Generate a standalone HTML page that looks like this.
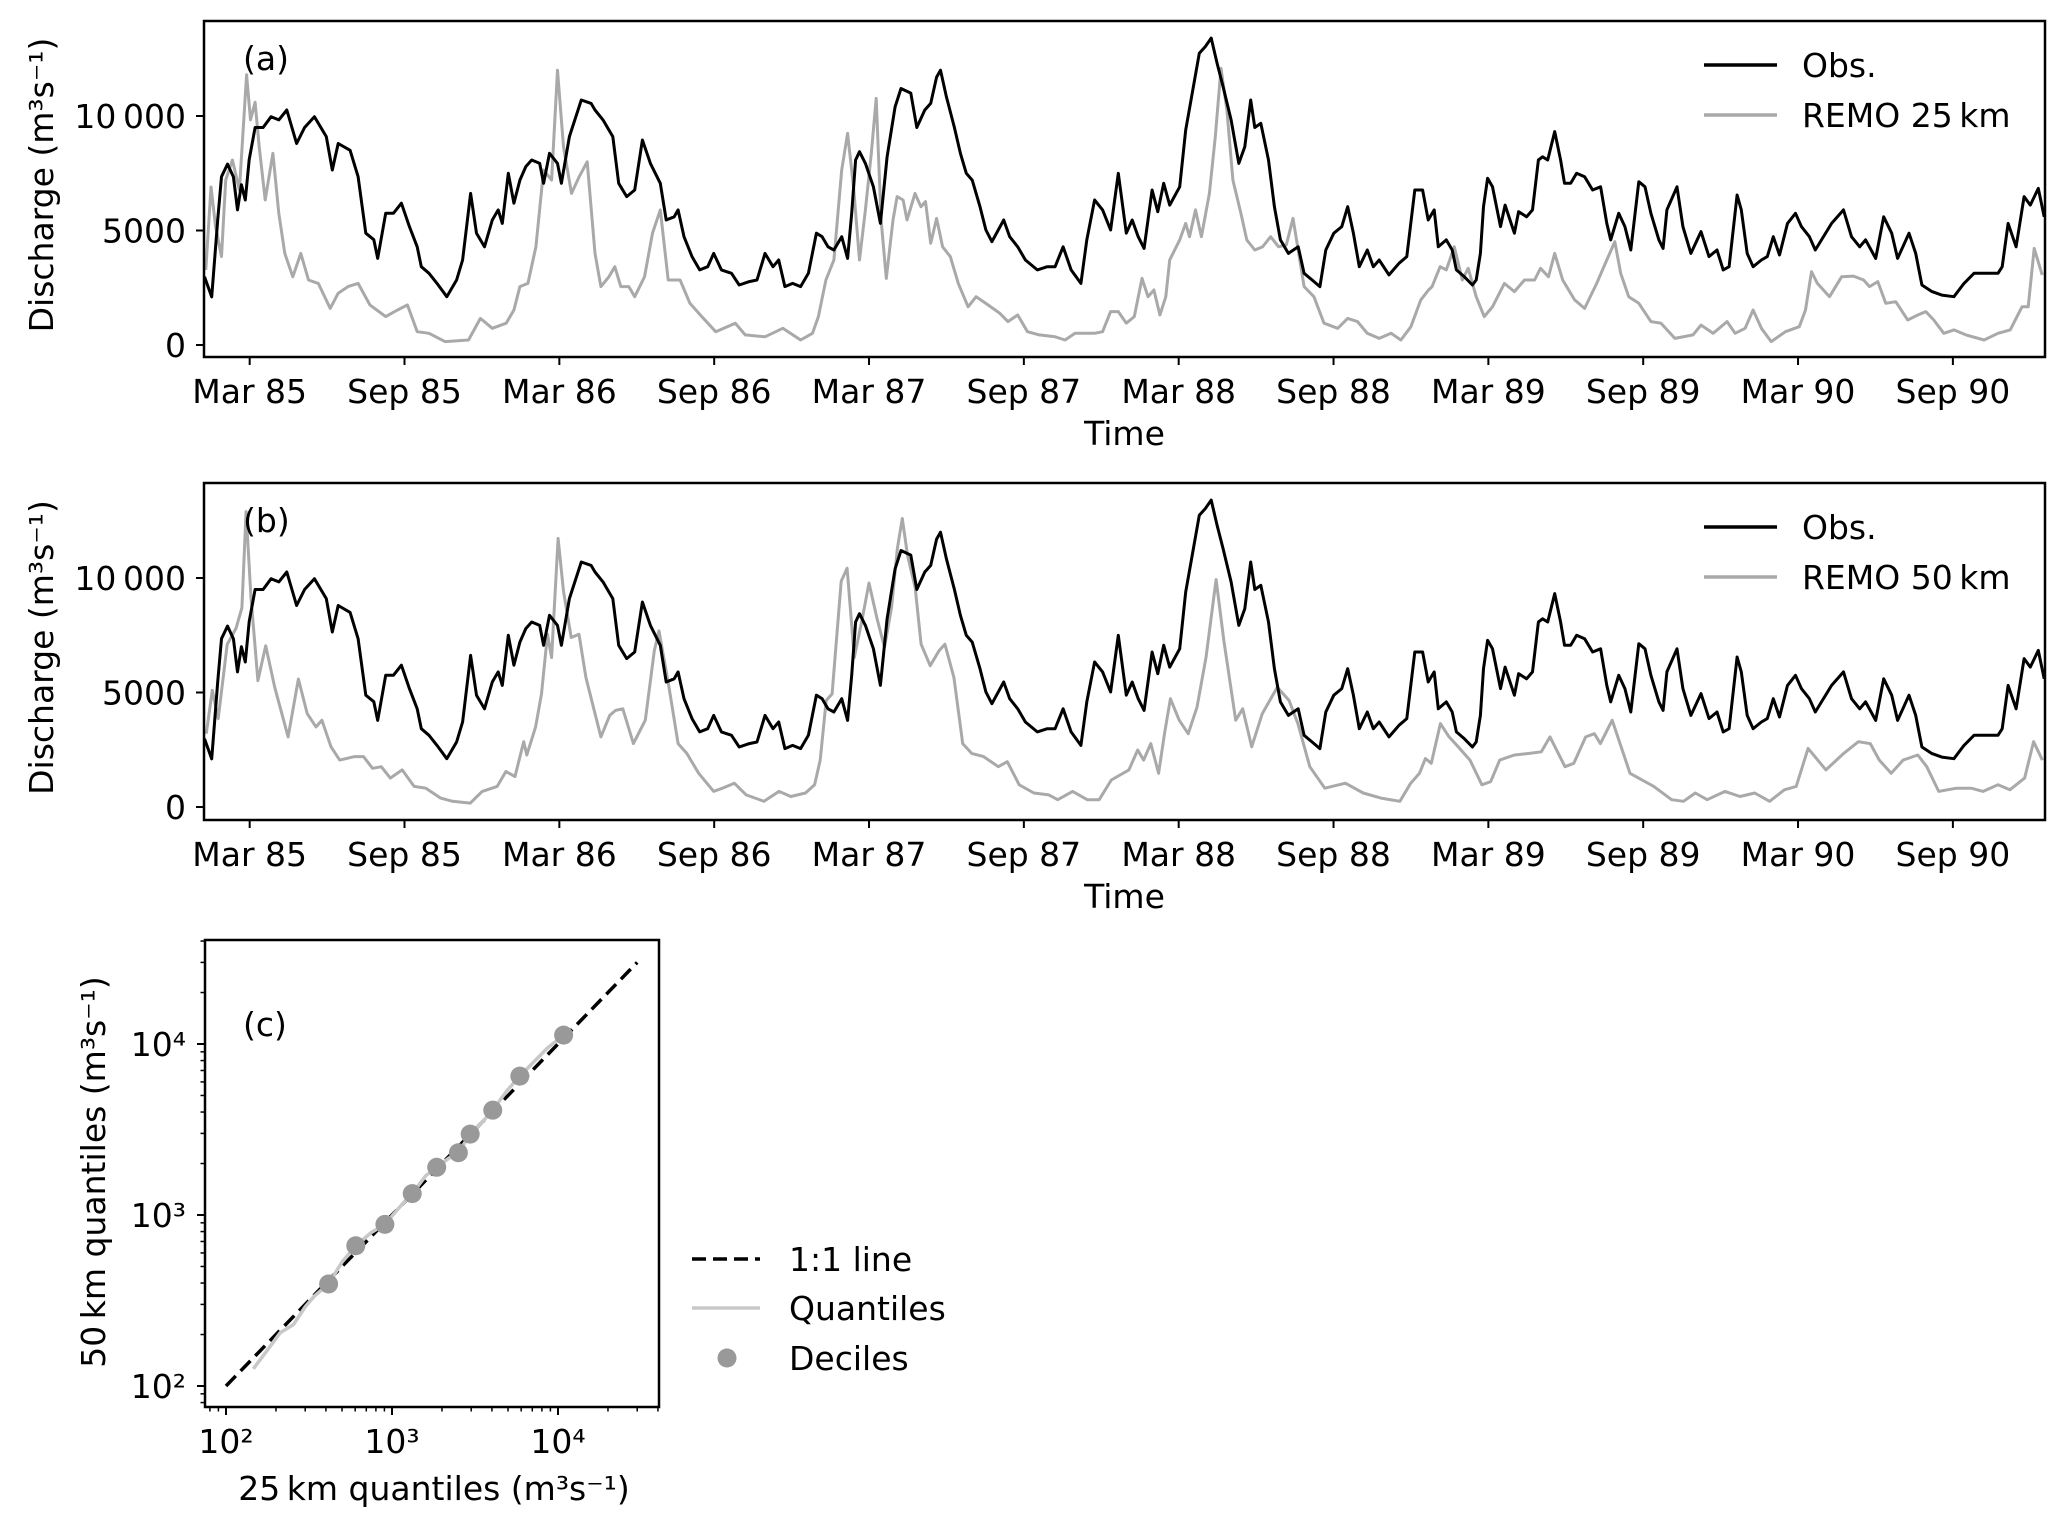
<!DOCTYPE html>
<html><head><meta charset="utf-8"><style>
html,body{margin:0;padding:0;background:#fff;}
svg{display:block;font-family:"DejaVu Sans","Liberation Sans",sans-serif;}
</style></head><body>
<svg id="fig" width="2067" height="1529" viewBox="0 0 2067 1529" xmlns="http://www.w3.org/2000/svg">
<rect x="0" y="0" width="2067" height="1529" fill="#fff"/>
</svg>
<script>
// ---- time-series data (months since 1 Jan 1985; discharge in thousand m3/s) ----
const obsMonths=[0.25,0.53,0.76,0.91,1.14,1.37,1.53,1.68,1.83,1.98,2.21,2.52,2.83,3.13,3.44,3.82,4.13,4.51,4.97,5.2,5.43,5.89,6.2,6.5,6.81,6.96,7.27,7.57,7.88,8.19,8.49,8.65,8.95,9.26,9.64,10.02,10.25,10.56,10.79,11.1,11.4,11.63,11.79,12.02,12.24,12.47,12.7,12.93,13.24,13.39,13.62,13.93,14.08,14.39,14.85,15.23,15.38,15.69,16.07,16.3,16.61,16.92,17.22,17.53,17.91,18.14,18.45,18.6,18.83,19.14,19.44,19.75,19.98,20.28,20.67,20.97,21.36,21.66,21.97,22.28,22.5,22.74,23.04,23.35,23.65,23.96,24.18,24.41,24.64,24.94,25.17,25.33,25.48,25.63,25.86,26.17,26.44,26.7,27.01,27.24,27.62,27.85,28.16,28.39,28.62,28.77,29.0,29.31,29.54,29.77,30.0,30.3,30.53,30.76,31.22,31.45,31.76,32.06,32.52,32.91,33.21,33.52,33.83,34.21,34.44,34.74,35.05,35.36,35.66,35.97,36.2,36.43,36.66,36.97,37.19,37.42,37.65,38.04,38.27,38.5,38.8,39.03,39.26,39.49,39.72,40.03,40.33,40.56,40.79,40.95,41.18,41.48,41.71,41.94,42.25,42.63,42.86,43.17,43.47,43.7,44.01,44.32,44.55,44.77,45.0,45.31,45.54,45.77,46.15,46.54,46.84,47.15,47.45,47.67,47.9,48.06,48.37,48.6,48.76,49.07,49.38,49.53,49.69,49.81,49.97,50.16,50.47,50.65,51.01,51.17,51.48,51.71,51.94,52.1,52.3,52.57,52.8,52.95,53.19,53.42,53.73,54.04,54.35,54.59,54.74,55.05,55.29,55.52,55.83,56.07,56.3,56.61,56.77,56.92,57.31,57.54,57.85,58.24,58.55,58.86,59.1,59.33,59.64,59.8,60.03,60.26,60.58,60.81,61.04,61.28,61.59,61.9,62.13,62.44,62.67,62.91,63.3,63.76,64.07,64.39,64.62,65.01,65.32,65.63,65.86,66.3,66.56,66.8,67.19,67.57,68.04,68.43,68.82,69.28,69.75,69.91,70.14,70.45,70.76,71.0,71.31,71.54];
const obsValues=[2.98,2.1,5.46,7.35,7.9,7.35,5.9,7.0,6.33,8.1,9.5,9.5,9.97,9.83,10.26,8.8,9.5,9.97,9.1,7.64,8.8,8.5,7.35,4.88,4.6,3.78,5.75,5.75,6.19,5.17,4.29,3.42,3.13,2.69,2.11,2.84,3.71,6.62,4.88,4.29,5.46,5.9,5.31,7.5,6.19,7.2,7.79,8.08,7.93,7.06,8.37,7.93,7.06,9.1,10.7,10.55,10.26,9.83,9.1,7.06,6.48,6.77,8.95,7.93,7.06,5.46,5.6,5.9,4.73,3.86,3.28,3.42,4.0,3.28,3.13,2.62,2.77,2.84,4.0,3.42,3.71,2.55,2.69,2.55,3.13,4.88,4.73,4.29,4.15,4.73,3.78,5.75,8.08,8.44,7.93,6.91,5.31,8.22,10.4,11.2,11.0,9.5,10.26,10.55,11.7,12.0,10.84,9.5,8.37,7.5,7.2,6.04,5.02,4.51,5.46,4.73,4.29,3.71,3.28,3.42,3.42,4.29,3.28,2.69,4.59,6.33,5.9,5.02,7.5,4.88,5.46,4.73,4.22,6.77,5.82,7.06,6.11,6.91,9.39,10.84,12.74,13.03,13.4,12.3,11.28,9.83,7.93,8.66,10.7,9.5,9.68,8.08,6.04,4.59,4.0,4.29,3.13,2.84,2.55,4.15,4.88,5.17,6.04,4.88,3.42,4.15,3.42,3.71,3.06,3.57,3.86,6.77,6.77,5.46,5.9,4.29,4.59,4.15,3.28,2.98,2.62,2.84,4.0,6.04,7.28,6.91,5.17,6.11,4.88,5.82,5.6,5.9,8.08,8.22,8.08,9.32,8.08,7.06,7.06,7.5,7.35,6.77,6.91,5.31,4.59,5.75,5.17,4.15,7.13,6.91,5.75,4.59,4.22,5.9,6.91,5.17,4.0,4.95,3.86,4.15,3.28,3.42,6.55,5.9,4.0,3.42,3.71,3.86,4.73,3.93,5.31,5.75,5.17,4.73,4.15,4.59,5.31,5.9,4.73,4.29,4.59,3.78,5.6,4.88,3.78,4.88,4.0,2.62,2.33,2.18,2.11,2.69,3.13,3.13,3.13,3.42,5.31,4.29,6.48,6.11,6.84,5.6];
const remo25Months=[0.3,0.5,0.68,0.91,1.07,1.33,1.6,1.88,2.03,2.21,2.37,2.6,2.9,3.13,3.36,3.67,3.98,4.28,4.66,5.12,5.43,5.81,6.2,6.66,7.27,7.73,8.11,8.49,8.95,9.57,10.48,10.94,11.4,11.94,12.24,12.47,12.78,13.09,13.39,13.7,13.93,14.16,14.47,14.77,15.08,15.38,15.61,15.92,16.15,16.38,16.69,16.92,17.3,17.61,17.91,18.22,18.68,19.06,19.52,20.06,20.82,21.2,21.97,22.66,23.35,23.81,24.04,24.33,24.64,24.94,25.17,25.4,25.63,25.86,26.09,26.28,26.47,26.67,26.93,27.09,27.32,27.47,27.78,28.01,28.19,28.39,28.62,28.85,29.15,29.46,29.84,30.15,30.61,31.07,31.38,31.76,32.14,32.6,33.21,33.6,33.98,34.74,35.05,35.36,35.66,35.97,36.28,36.58,36.81,37.04,37.27,37.5,37.65,38.04,38.27,38.42,38.65,38.88,39.19,39.42,39.64,39.87,40.1,40.41,40.64,40.95,41.25,41.56,41.87,42.17,42.43,42.63,42.86,43.24,43.63,44.16,44.55,44.93,45.31,45.77,46.23,46.61,47.0,47.38,47.68,47.82,48.13,48.37,48.68,48.99,49.22,49.53,49.84,50.16,50.62,51.01,51.4,51.79,52.02,52.33,52.57,52.88,53.34,53.73,54.2,54.59,54.9,55.13,55.44,55.83,56.3,56.69,57.23,57.93,58.24,58.71,59.25,59.56,59.95,60.26,60.58,60.96,61.51,62.05,62.29,62.52,62.75,63.22,63.69,64.15,64.54,64.77,65.09,65.4,65.79,66.25,66.64,66.95,67.26,67.65,68.04,68.51,69.21,69.75,70.22,70.68,70.92,71.15,71.46];
const remo25Values=[3.28,6.9,5.17,3.86,7.2,8.08,6.77,11.8,9.83,10.6,8.66,6.33,8.37,5.75,4.0,2.98,4.0,2.84,2.69,1.6,2.26,2.55,2.69,1.75,1.24,1.53,1.75,0.58,0.51,0.15,0.22,1.16,0.73,0.95,1.53,2.55,2.69,4.29,7.64,7.2,12.0,8.66,6.62,7.35,8.0,4.0,2.55,2.98,3.42,2.55,2.55,2.11,2.98,4.88,5.9,2.84,2.84,1.82,1.24,0.58,0.95,0.44,0.36,0.73,0.22,0.51,1.24,2.84,3.71,7.64,9.24,6.91,3.71,5.9,8.37,10.77,5.46,2.91,5.46,6.48,6.33,5.46,6.62,6.04,6.26,4.44,5.53,4.29,3.86,2.69,1.67,2.11,1.75,1.38,1.02,1.31,0.58,0.44,0.36,0.22,0.51,0.51,0.58,1.46,1.46,0.95,1.24,2.91,2.11,2.4,1.31,2.11,3.71,4.59,5.31,4.73,5.9,4.73,6.62,9.1,12.08,10.26,7.2,5.75,4.59,4.15,4.29,4.73,4.29,4.37,5.53,4.15,2.55,2.11,0.95,0.73,1.16,1.02,0.51,0.29,0.51,0.22,0.8,1.97,2.4,2.55,3.42,3.28,4.29,2.84,3.35,2.11,1.24,1.67,2.69,2.33,2.84,2.84,3.35,2.98,4.0,2.84,1.97,1.6,2.69,3.71,4.51,3.13,2.11,1.82,1.02,0.95,0.29,0.44,0.87,0.51,1.02,0.51,0.73,1.53,0.73,0.15,0.58,0.8,1.53,3.2,2.69,2.11,2.98,3.01,2.84,2.55,2.77,1.82,1.89,1.09,1.31,1.46,1.09,0.51,0.66,0.44,0.22,0.51,0.66,1.67,1.67,4.22,3.06];
const remo50Months=[0.32,0.55,0.78,1.13,1.47,1.7,1.86,2.05,2.32,2.62,2.97,3.49,3.89,4.23,4.57,4.8,5.15,5.49,6.07,6.41,6.76,7.1,7.45,7.91,8.37,8.83,9.4,9.86,10.55,11.01,11.59,11.93,12.28,12.62,12.74,13.08,13.31,13.54,13.7,13.95,14.16,14.46,14.76,15.03,15.38,15.61,15.95,16.18,16.46,16.87,17.33,17.68,17.86,18.25,18.6,18.94,19.4,19.98,20.32,20.78,21.24,21.93,22.51,22.97,23.54,23.89,24.11,24.34,24.57,24.92,25.15,25.43,25.72,26.0,26.3,26.6,26.87,27.1,27.29,27.49,27.79,28.02,28.37,28.71,28.94,29.29,29.63,29.98,30.44,31.01,31.36,31.82,32.39,32.97,33.31,33.89,34.46,34.92,35.39,36.07,36.41,36.64,36.92,37.22,37.45,37.68,38.02,38.37,38.71,39.06,39.45,39.75,40.21,40.48,40.83,41.24,41.82,42.28,42.62,43.08,43.66,44.46,45.15,45.84,46.57,46.99,47.33,47.56,47.79,48.14,48.48,48.83,49.29,49.75,50.09,50.44,51.01,51.59,52.05,52.39,52.97,53.31,53.77,54.11,54.34,54.8,55.49,56.41,57.1,57.56,58.02,58.48,59.17,59.75,60.32,60.9,61.47,61.93,62.39,63.08,63.77,64.34,64.8,65.15,65.61,66.07,66.64,66.99,67.45,68.14,68.71,69.17,69.75,70.21,70.78,71.13,71.47];
const remo50Values=[3.2,5.1,3.86,7.1,7.8,8.7,12.9,9.13,5.52,7.04,5.23,3.06,5.59,4.08,3.5,3.79,2.63,2.05,2.2,2.2,1.69,1.76,1.26,1.62,0.9,0.82,0.39,0.25,0.17,0.68,0.9,1.55,1.33,2.85,2.27,3.5,4.94,7.54,6.53,11.73,9.42,7.4,7.54,5.66,4.08,3.06,4.0,4.22,4.29,2.77,3.79,6.82,7.69,5.23,2.77,2.34,1.47,0.68,0.82,1.04,0.53,0.25,0.68,0.46,0.61,0.97,2.05,4.65,4.94,9.86,10.43,6.53,8.12,9.78,8.27,6.97,8.7,11.3,12.6,11.0,9.57,7.11,6.17,6.82,7.11,5.66,2.77,2.34,2.2,1.76,1.98,0.97,0.61,0.53,0.32,0.68,0.32,0.32,1.18,1.62,2.49,2.05,2.77,1.47,3.2,4.73,3.79,3.2,4.36,6.53,9.93,7.25,3.79,4.29,2.63,4.08,5.23,4.65,3.64,1.76,0.82,1.04,0.61,0.39,0.25,1.04,1.47,2.12,1.91,3.64,3.06,2.63,2.05,0.97,1.11,2.05,2.27,2.34,2.41,3.06,1.76,1.91,3.06,3.2,2.77,3.79,1.47,0.9,0.32,0.25,0.61,0.32,0.68,0.46,0.61,0.25,0.75,0.9,2.56,1.62,2.34,2.85,2.77,2.05,1.47,2.05,2.27,1.76,0.68,0.82,0.82,0.68,0.97,0.75,1.26,2.85,2.05];
const timeTickMonths=[2,8,14,20,26,32,38,44,50,56,62,68];
const timeTickLabels=["Mar 85","Sep 85","Mar 86","Sep 86","Mar 87","Sep 87","Mar 88","Sep 88","Mar 89","Sep 89","Mar 90","Sep 90"];
const dischargeTicks=[0,5000,10000];
const dischargeTickLabels=["0","5000","10\u2009000"];
// ---- Q-Q data (m3/s) ----
const quantiles25=[146,180,212,255,300,341,415,500,605,750,906,1100,1324,1600,1859,2200,2512,2958,3500,4045,4900,5890,7000,8630,10810];
const quantiles50=[126,165,205,229,290,336,395,530,661,790,881,1100,1333,1700,1901,2150,2312,2972,3500,4102,5300,6490,7700,9460,11270];
const deciles25=[415,605,906,1324,1859,2512,2958,4045,5890,10810];
const deciles50=[395,661,881,1333,1901,2312,2972,4102,6490,11270];
const oneToOne=[100,30000];
const logTickExps=[2,3,4];
const logTickLabels=["10\u00b2","10\u00b3","10\u2074"];

const NS="http://www.w3.org/2000/svg";
const svg=document.getElementById('fig');
function mk(tag,attrs,parent){const e=document.createElementNS(NS,tag);for(const k in attrs)e.setAttribute(k,attrs[k]);(parent||svg).appendChild(e);return e;}
const FS=33;

// time axis mapping
const X0=204,X1=2045,M0=0.23,M1=71.57;
function xT(m){return X0+(m-M0)*(X1-X0)/(M1-M0);}

function drawPanel(top,bottom,y0,y10k,series,letter,legendLabel,pname){
  function yV(v){return y0-(v/10000)*(y0-y10k);}
  const g=mk('g',{});
  
  
  const cp=mk('clipPath',{id:'clip-'+pname},g);
  mk('rect',{x:X0,y:top,width:X1-X0,height:bottom-top},cp);
  series.forEach(s=>{
    let d='';
    for(let i=0;i<s.m.length;i++){d+=(i?'L':'M')+xT(s.m[i]).toFixed(1)+','+yV(s.v[i]*1000).toFixed(1);}
    const p=mk('path',{d:d,fill:'none',stroke:s.color,'stroke-width':3,'stroke-linejoin':'round','clip-path':'url(#clip-'+pname+')'},g);
    
    
  });
  const frame=mk('rect',{x:X0,y:top,width:X1-X0,height:bottom-top,fill:'none',stroke:'#000','stroke-width':2.5},g);
  
  
  timeTickMonths.forEach((m,i)=>{
    const x=xT(m);
    mk('line',{x1:x,y1:bottom,x2:x,y2:bottom+8,stroke:'#000','stroke-width':2},g);
    const t=mk('text',{x:x,y:bottom+46,'font-size':FS,'text-anchor':'middle'},g);
    t.textContent=timeTickLabels[i];
    
    
  });
  dischargeTicks.forEach((v,i)=>{
    const y=yV(v);
    mk('line',{x1:X0,y1:y,x2:X0-8,y2:y,stroke:'#000','stroke-width':2},g);
    const t=mk('text',{x:186,y:y+12,'font-size':FS,'text-anchor':'end'},g);
    t.textContent=dischargeTickLabels[i];
    
    
  });
  const xl=mk('text',{x:(X0+X1)/2,y:bottom+88,'font-size':FS,'text-anchor':'middle'},g);
  xl.textContent='Time';
  
  
  const cy=(top+bottom)/2-4;
  const yl=mk('text',{x:0,y:0,'font-size':FS,'text-anchor':'middle',transform:'translate(53,'+cy+') rotate(-90)'},g);
  yl.textContent='Discharge (m\u00b3s\u207b\u00b9)';
  
  
  const pl=mk('text',{x:243,y:top+49,'font-size':FS},g);
  pl.textContent=letter;
  
  
  // legend
  const lg=mk('g',{},g);
  
  
  const ent=[['Obs.','#000'],[legendLabel,'#a9a9a9']];
  ent.forEach((e,i)=>{
    const ly=top+44+i*50;
    const ln=mk('line',{x1:1704,y1:ly,x2:1777,y2:ly,stroke:e[1],'stroke-width':3.5},lg);
    
    
    const tx=mk('text',{x:1802,y:ly+12,'font-size':FS},lg);
    tx.textContent=e[0];
    
    
  });
}

drawPanel(21,357,345,116,[
  {m:remo25Months,v:remo25Values,color:'#a9a9a9',name:'remo-25km-line'},
  {m:obsMonths,v:obsValues,color:'#000',name:'obs-line'}],'(a)','REMO 25\u2009km','panel-a');
drawPanel(483,820,807,578,[
  {m:remo50Months,v:remo50Values,color:'#a9a9a9',name:'remo-50km-line'},
  {m:obsMonths,v:obsValues,color:'#000',name:'obs-line'}],'(b)','REMO 50\u2009km','panel-b');

// ---- panel c (log-log) ----
const CL=205,CR=659,CT=940,CB=1407;
function xL(v){return 226+(Math.log10(v)-2)*166;}
function yL(v){return 1386-(Math.log10(v)-2)*171;}
const gc=mk('g',{});


const cpc=mk('clipPath',{id:'clip-c'},gc);
mk('rect',{x:CL,y:CT,width:CR-CL,height:CB-CT},cpc);
const oneLine=mk('line',{x1:xL(oneToOne[0]),y1:yL(oneToOne[0]),x2:xL(oneToOne[1]),y2:yL(oneToOne[1]),stroke:'#000','stroke-width':3.5,'stroke-dasharray':'14 7','clip-path':'url(#clip-c)'},gc);


let qd='';
for(let i=0;i<quantiles25.length;i++){qd+=(i?'L':'M')+xL(quantiles25[i]).toFixed(1)+','+yL(quantiles50[i]).toFixed(1);}
const qp=mk('path',{d:qd,fill:'none',stroke:'#c8c8c8','stroke-width':3.5,'stroke-linejoin':'round'},gc);


for(let i=0;i<deciles25.length;i++){
  const c=mk('circle',{cx:xL(deciles25[i]),cy:yL(deciles50[i]),r:9.5,fill:'#999'},gc);
  
  
}
const cf=mk('rect',{x:CL,y:CT,width:CR-CL,height:CB-CT,fill:'none',stroke:'#000','stroke-width':2.5},gc);


// minor + major ticks
for(let e=1;e<=4;e++){for(let k=1;k<=9;k++){
  const v=k*Math.pow(10,e);const len=(k===1)?8:4.5;
  const x=xL(v);if(x>=CL-0.5&&x<=CR+0.5)mk('line',{x1:x,y1:CB,x2:x,y2:CB+len,stroke:'#000','stroke-width':k===1?2:1.5},gc);
  const y=yL(v);if(y>=CT-0.5&&y<=CB+0.5)mk('line',{x1:CL,y1:y,x2:CL-len,y2:y,stroke:'#000','stroke-width':k===1?2:1.5},gc);
}}
logTickExps.forEach((e,i)=>{
  const v=Math.pow(10,e);
  const tx=mk('text',{x:xL(v),y:1453,'font-size':FS,'text-anchor':'middle'},gc);
  tx.textContent=logTickLabels[i];
  
  
  const ty=mk('text',{x:186,y:yL(v)+12,'font-size':FS,'text-anchor':'end'},gc);
  ty.textContent=logTickLabels[i];
  
  
});
const cxl=mk('text',{x:434,y:1500,'font-size':FS,'text-anchor':'middle'},gc);
cxl.textContent='25\u2009km quantiles (m\u00b3s\u207b\u00b9)';


const cyl=mk('text',{x:0,y:0,'font-size':FS,'text-anchor':'middle',transform:'translate(105,1172) rotate(-90)'},gc);
cyl.textContent='50\u2009km quantiles (m\u00b3s\u207b\u00b9)';


const cpl=mk('text',{x:243,y:1036,'font-size':FS},gc);
cpl.textContent='(c)';


// legend c
const lgc=mk('g',{},gc);


const l1=mk('line',{x1:692,y1:1259,x2:760,y2:1259,stroke:'#000','stroke-width':3.5,'stroke-dasharray':'14 7'},lgc);


const l2=mk('line',{x1:692,y1:1308,x2:760,y2:1308,stroke:'#c8c8c8','stroke-width':3.5},lgc);


const l3=mk('circle',{cx:727,cy:1358,r:9.5,fill:'#999'},lgc);


[['1:1 line',1259],['Quantiles',1308],['Deciles',1358]].forEach(e=>{
  const t=mk('text',{x:789,y:e[1]+12,'font-size':FS},lgc);
  t.textContent=e[0];
  
  
});
</script>
</body></html>
